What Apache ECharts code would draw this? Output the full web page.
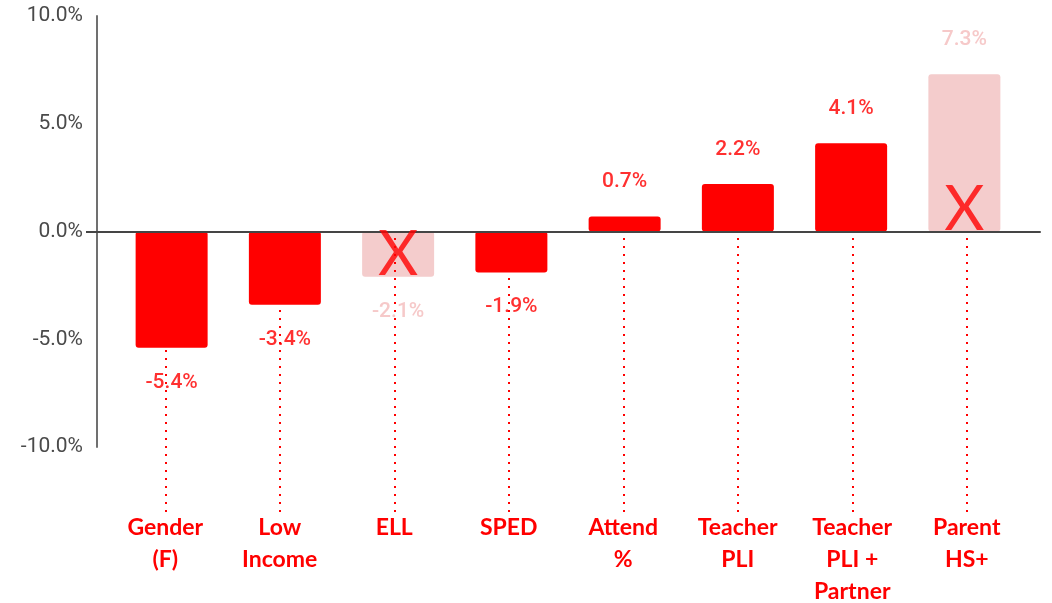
<!DOCTYPE html>
<html>
<head>
<meta charset="utf-8">
<script src="https://cdn.jsdelivr.net/npm/echarts@6/dist/echarts.min.js"></script>
<style>
  html, body { margin: 0; padding: 0; background: #fff; }
  #chart { width: 1052px; height: 603px; }
</style>
</head>
<body>
<div id="chart"></div>
<script>
// categories and effect sizes (percent)
const categories = ['Gender\n(F)', 'Low\nIncome', 'ELL', 'SPED', 'Attend\n%', 'Teacher\nPLI', 'Teacher\nPLI +\nPartner', 'Parent\nHS+'];
const effects = [-5.4, -3.4, -2.1, -1.9, 0.7, 2.2, 4.1, 7.3];
// crossed out (not significant) items
const notSignificant = [false, false, true, false, false, false, false, true];
const yMin = -10;
const yMax = 10;
const yStep = 5;

const RED = '#ff0000';
const PALE = '#f4cccc';

const chart = echarts.init(document.getElementById('chart'));

const barData = effects.map((v, i) => ({
  value: v,
  itemStyle: { color: notSignificant[i] ? PALE : RED },
  label: {
    position: v < 0 ? 'bottom' : 'top',
    color: notSignificant[i] ? '#f6c9c9' : '#ff3030'
  }
}));

// the red "X" marks sit on the zero line of crossed-out bars
const crossData = [];
effects.forEach((v, i) => {
  if (notSignificant[i]) {
    crossData.push({
      value: [i, 0],
      label: { offset: [0, v < 0 ? 23 : -22] }
    });
  }
});

chart.setOption({
  animation: false,
  grid: [
    // background: value axis, split lines, zero line
    { left: 97, right: 12, top: 16, bottom: 156, outerBoundsMode: 'none', containLabel: false },
    // bars
    { left: 115, right: 31, top: 16, bottom: 156, outerBoundsMode: 'none', containLabel: false },
    // leader lines (from the zero line down) + category labels
    { left: 108, right: 28, top: 232, bottom: 91, outerBoundsMode: 'none', containLabel: false }
  ],
  xAxis: [
    {
      gridIndex: 0,
      type: 'category',
      data: categories,
      z: 5,
      axisLine: { onZero: true, lineStyle: { color: '#454545', width: 2 } },
      axisTick: { show: false },
      axisLabel: { show: false },
      splitLine: { show: false }
    },
    {
      gridIndex: 1,
      type: 'category',
      data: categories,
      show: false
    },
    {
      gridIndex: 2,
      type: 'category',
      data: categories,
      position: 'bottom',
      z: 10,
      axisLine: { show: false, onZero: false },
      axisTick: {
        show: true,
        inside: true,
        alignWithLabel: true,
        length: 280,
        lineStyle: { color: RED, width: 2, type: [2, 6] }
      },
      axisLabel: {
        interval: 0,
        margin: 0,
        color: RED,
        fontFamily: 'Lato',
        fontWeight: 'bold',
        fontSize: 23,
        lineHeight: 32
      }
    }
  ],
  yAxis: [
    {
      gridIndex: 0,
      type: 'value',
      min: yMin,
      max: yMax,
      interval: yStep,
      axisLine: { show: true, lineStyle: { color: '#707070', width: 2 } },
      axisTick: {
        show: true,
        customValues: [0],
        length: 11,
        lineStyle: { color: '#454545', width: 2 }
      },
      axisLabel: {
        margin: 14,
        color: '#4a4a4a',
        fontFamily: 'Roboto',
        fontSize: 21,
        formatter: v => v.toFixed(1) + '%'
      },
      splitLine: {
        show: true,
        showMinLine: true,
        showMaxLine: true,
        lineStyle: { color: '#e3e3e3', width: 2 }
      }
    },
    { gridIndex: 1, type: 'value', min: yMin, max: yMax, interval: yStep, show: false },
    { gridIndex: 2, type: 'value', min: 0, max: 1, show: false }
  ],
  series: [
    {
      type: 'bar',
      xAxisIndex: 1,
      yAxisIndex: 1,
      barWidth: 72,
      data: barData,
      itemStyle: { borderRadius: 3 },
      label: {
        show: true,
        distance: 24,
        fontFamily: 'Roboto',
        fontWeight: 500,
        fontSize: 21,
        formatter: p => p.value.toFixed(1) + '%'
      }
    },
    {
      type: 'scatter',
      xAxisIndex: 1,
      yAxisIndex: 1,
      symbolSize: 1,
      itemStyle: { color: 'rgba(0,0,0,0)' },
      z: 6,
      data: crossData,
      label: {
        show: true,
        position: 'inside',
        formatter: 'X',
        color: RED,
        fontFamily: 'Lato',
        fontWeight: 'normal',
        fontSize: 62
      }
    }
  ]
});
</script>
</body>
</html>
